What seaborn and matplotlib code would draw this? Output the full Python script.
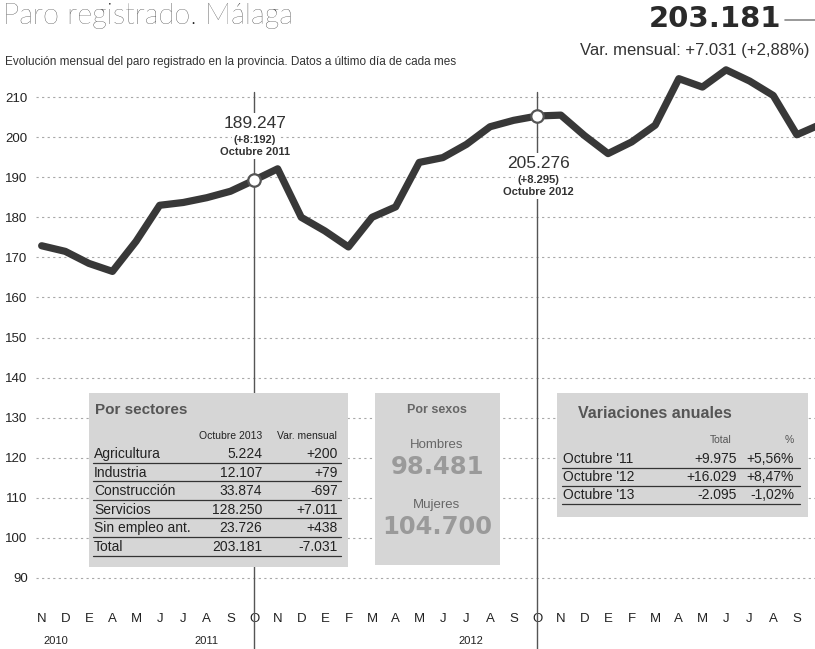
import pandas as pd
import matplotlib
matplotlib.use("Agg")
import matplotlib.pyplot as plt
import matplotlib.transforms as mtransforms
from matplotlib.patches import Rectangle
from matplotlib.lines import Line2D
import seaborn as sns

# serie mensual (miles de parados)
meses = list("NDEAMJJAS" + "ONDEFMAMJJAS" + "ONDEFMAMJJAS" + "O")
paro = [172.9, 171.5, 168.5, 166.5, 174.0, 183.0, 183.7, 184.9, 186.5, 189.247,
        192.1, 180.0, 176.6, 172.6, 180.0, 182.6, 193.7, 194.9, 198.2, 202.6,
        204.2, 205.276, 205.5, 200.4, 195.9, 198.8, 203.0, 214.6, 212.5, 216.8,
        214.0, 210.4, 200.6, 203.181]
anios = ["2010", "2011", "2012"]
anios_pos = [0.6, 7.0, 18.2]

# puntos destacados
destacados = [9, 21]
dest_valor = ["189.247", "205.276"]
dest_var = ["(+8:192)", "(+8.295)"]
dest_mes = ["Octubre 2011", "Octubre 2012"]

# tablas
sectores = ["Agricultura", "Industria", "Construcción", "Servicios", "Sin empleo ant.", "Total"]
sector_valor = ["5.224", "12.107", "33.874", "128.250", "23.726", "203.181"]
sector_var = ["+200", "+79", "-697", "+7.011", "+438", "-7.031"]
sexos = ["Hombres", "Mujeres"]
sexos_valor = ["98.481", "104.700"]
anual_mes = ["Octubre '11", "Octubre '12", "Octubre '13"]
anual_total = ["+9.975", "+16.029", "-2.095"]
anual_pct = ["+5,56%", "+8,47%", "-1,02%"]

df = pd.DataFrame({"pos": range(len(paro)), "paro": paro})

sns.set_style("white")
plt.rcParams["font.family"] = ["Liberation Sans", "DejaVu Sans"]

W, H = 815, 649
fig = plt.figure(figsize=(W / 100, H / 100), dpi=100)


def px(x, y):
    return x / W, 1 - y / H


ax = fig.add_axes([36 / W, 1 - 594 / H, 779 / W, 545 / H])
sns.lineplot(data=df, x="pos", y="paro", ax=ax, color="#383838", linewidth=5.2,
             sort=False, zorder=4)
ax.scatter(destacados, [paro[i] for i in destacados], s=80, facecolor="white",
           edgecolor="#555555", linewidth=1.6, zorder=5)

ax.set_xlim(-0.24, 32.77)
ax.set_ylim(86, 222)
ax.set_yticks(range(90, 211, 10))
ax.set_xticks(range(len(meses) - 1))
ax.set_xticklabels(meses[:-1], fontsize=9.5, color="#222222")
ax.tick_params(axis="x", length=0, pad=14)
ax.tick_params(axis="y", length=0, pad=6, labelsize=9.5, labelcolor="#222222")
ax.grid(axis="y", linestyle=(0, (2, 3)), color="#a8a8a8", linewidth=0.8)
ax.set_xlabel("")
ax.set_ylabel("")
sns.despine(ax=ax, left=True, bottom=True)

blend = mtransforms.blended_transform_factory(ax.transData, ax.transAxes)
for i in destacados:
    ax.plot([i, i], [-0.101, 0.921], transform=blend, color="#555555", lw=1.0,
            clip_on=False, zorder=2)
for a, p in zip(anios, anios_pos):
    ax.text(p, -0.086, a, transform=blend, ha="center", va="center",
            fontsize=8, color="#222222")

# anotaciones de los puntos destacados
for (cx, cy), v, d, m in zip([(255, 123), (538, 163)], dest_valor, dest_var, dest_mes):
    bb = dict(facecolor="white", edgecolor="none", pad=1.5)
    fig.text(*px(cx, cy), v, ha="center", va="center", fontsize=12.5, color="#333333", bbox=bb)
    fig.text(*px(cx, cy + 17), d, ha="center", va="center", fontsize=8,
             color="#333333", fontweight="bold", bbox=bb)
    fig.text(*px(cx, cy + 29), m, ha="center", va="center", fontsize=8,
             color="#333333", fontweight="bold", bbox=bb)

# cabecera
fig.text(*px(3, 16), "Paro registrado. Málaga", ha="left", va="center",
         fontsize=21, family=["Lato", "DejaVu Sans"], fontweight="light", color="#1e1e1e")
fig.text(*px(5, 62), "Evolución mensual del paro registrado en la provincia. Datos a último día de cada mes",
         ha="left", va="center", fontsize=8.5, color="#333333")
fig.text(*px(781, 19), "203.181", ha="right", va="center", fontsize=21,
         family=["DejaVu Sans"], fontweight="bold", color="#2a2a2a")
fig.add_artist(Line2D([785 / W, 815 / W], [1 - 20 / H, 1 - 20 / H], color="#888888", lw=1.2))
fig.text(*px(810, 50), "Var. mensual: +7.031 (+2,88%)", ha="right", va="center",
         fontsize=12, color="#333333")

BOX = "#d6d6d6"


def caja(x0, y0, x1, y1):
    fig.add_artist(Rectangle(px(x0, y1), (x1 - x0) / W, (y1 - y0) / H,
                             facecolor=BOX, edgecolor="none", zorder=3))


def raya(x0, x1, y):
    fig.add_artist(Line2D([x0 / W, x1 / W], [1 - y / H, 1 - y / H], color="#333333",
                          lw=0.9, zorder=4))


def txt(x, y, s, **kw):
    kw.setdefault("va", "center")
    kw.setdefault("color", "#222222")
    fig.text(*px(x, y), s, zorder=5, **kw)


# Por sectores
caja(89, 393, 348, 567)
txt(95, 410, "Por sectores", ha="left", fontsize=11, fontweight="bold", color="#555555")
txt(262, 436, "Octubre 2013", ha="right", fontsize=7.5)
txt(337, 436, "Var. mensual", ha="right", fontsize=7.5)
for k, (n, v, d) in enumerate(zip(sectores, sector_valor, sector_var)):
    y = 454 + k * 18.6
    txt(94, y, n, ha="left", fontsize=10)
    txt(262, y, v, ha="right", fontsize=10)
    txt(338, y, d, ha="right", fontsize=10)
    raya(93, 341, y + 8.5)

# Por sexos
caja(375, 393, 500, 565)
txt(437, 410, "Por sexos", ha="center", fontsize=9, fontweight="bold", color="#666666")
for k, (n, v) in enumerate(zip(sexos, sexos_valor)):
    txt(437, 445 + k * 60, n, ha="center", fontsize=9.5, color="#666666")
    txt(437, 467 + k * 60, v, ha="center", fontsize=17.5, fontweight="bold",
        family=["DejaVu Sans"], color="#9a9a9a")

# Variaciones anuales
caja(557, 393, 808, 517)
txt(578, 413, "Variaciones anuales", ha="left", fontsize=11.5, fontweight="bold", color="#555555")
txt(732, 440, "Total", ha="right", fontsize=7.5, color="#555555")
txt(794, 440, "%", ha="right", fontsize=7.5, color="#555555")
for k, (n, t, p) in enumerate(zip(anual_mes, anual_total, anual_pct)):
    y = 459 + k * 18
    txt(563, y, n, ha="left", fontsize=10)
    txt(737, y, t, ha="right", fontsize=10)
    txt(794, y, p, ha="right", fontsize=10)
    raya(562, 800, y + 8.5)

fig.savefig("out.png", dpi=100)
